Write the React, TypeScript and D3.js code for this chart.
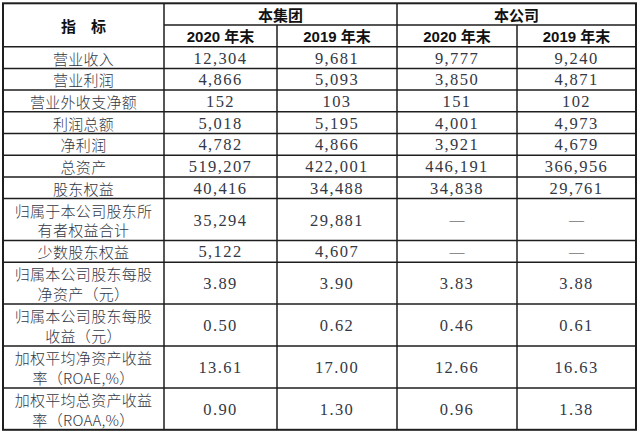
import React from "react";
import * as d3 from "d3";

// table content
const metrics = [
  "营业收入",
  "营业利润",
  "营业外收支净额",
  "利润总额",
  "净利润",
  "总资产",
  "股东权益",
  "归属于本公司股东所有者权益合计",
  "少数股东权益",
  "归属本公司股东每股净资产（元）",
  "归属本公司股东每股收益（元）",
  "加权平均净资产收益率（ROAE,%）",
  "加权平均总资产收益率（ROAA,%）",
];
const group2020 = ["12,304", "4,866", "152", "5,018", "4,782", "519,207", "40,416", "35,294", "5,122", "3.89", "0.50", "13.61", "0.90"];
const group2019 = ["9,681", "5,093", "103", "5,195", "4,866", "422,001", "34,488", "29,881", "4,607", "3.90", "0.62", "17.00", "1.30"];
const company2020 = ["9,777", "3,850", "151", "4,001", "3,921", "446,191", "34,838", "—", "—", "3.83", "0.46", "12.66", "0.96"];
const company2019 = ["9,240", "4,871", "102", "4,973", "4,679", "366,956", "29,761", "—", "—", "3.88", "0.61", "16.63", "1.38"];
const groupHeaders = ["本集团", "本公司"];
const yearHeaders = ["2020 年末", "2019 年末", "2020 年末", "2019 年末"];
const cornerHeader = "指　标";

const W = 640;
const H = 435;
const left = 3;
const top = 3.3;
const colWidths = [161, 113, 120, 120, 119];
const singleH = 21.7;
const doubleH = 41.9;
const wrapAt = 9;

const cjk = "'Noto Sans CJK SC', sans-serif";
const serifNum = "'Liberation Serif', 'DejaVu Serif', serif";
const headFont = "'Liberation Sans', 'Noto Sans CJK SC', sans-serif";
const ink = "#333845";
const line = "#1e1e1e";

function wrap(s: string): string[] {
  const out: string[] = [];
  for (let i = 0; i < s.length; i += wrapAt) out.push(s.slice(i, i + wrapAt));
  return out;
}

export default function App() {
  const colX = [left];
  colWidths.forEach((w) => colX.push(colX[colX.length - 1] + w));
  const right = colX[colX.length - 1];

  const labels = metrics.map(wrap);
  const rowY = [top, top + singleH, top + 2 * singleH];
  labels.forEach((l) => rowY.push(rowY[rowY.length - 1] + (l.length > 1 ? doubleH : singleH)));
  const bottom = rowY[rowY.length - 1];

  const y = d3.scaleLinear().domain([0, 1]).range([0, 1]);
  const cx = (i: number) => (colX[i] + colX[i + 1]) / 2;
  const cols = [group2020, group2019, company2020, company2019];

  return (
    <svg
      width={W}
      height={H}
      style={{ position: "absolute", left: 0, top: 0, background: "#fff" }}
    >
      <rect x={0} y={0} width={W} height={H} fill="#fff" />
      {/* header */}
      <text
        x={cx(0)}
        y={y((rowY[0] + rowY[2]) / 2)}
        textAnchor="middle"
        dominantBaseline="central"
        fontFamily={cjk}
        fontWeight={700}
        fontSize={15}
        fill="#111"
      >
        {cornerHeader}
      </text>
      {groupHeaders.map((g, i) => (
        <text
          key={g}
          x={(colX[1 + i * 2] + colX[3 + i * 2]) / 2}
          y={(rowY[0] + rowY[1]) / 2 + 0.5}
          textAnchor="middle"
          dominantBaseline="central"
          fontFamily={cjk}
          fontWeight={700}
          fontSize={15}
          fill="#111"
        >
          {g}
        </text>
      ))}
      {yearHeaders.map((h, i) => (
        <text
          key={i}
          x={cx(i + 1)}
          y={(rowY[1] + rowY[2]) / 2 + 0.5}
          textAnchor="middle"
          dominantBaseline="central"
          fontFamily={headFont}
          fontWeight={700}
          fontSize={15}
          fill="#111"
        >
          {h}
        </text>
      ))}
      {/* body */}
      {labels.map((ls, r) => {
        const y0 = rowY[r + 2];
        const y1 = rowY[r + 3];
        const mid = (y0 + y1) / 2;
        return (
          <g key={r}>
            {ls.map((t, k) => (
              <text
                key={k}
                x={cx(0)}
                y={mid + (k - (ls.length - 1) / 2) * 19.5 + 0.5}
                textAnchor="middle"
                dominantBaseline="central"
                fontFamily={cjk}
                fontWeight={300}
                fontSize={15}
                letterSpacing={0.3}
                fill={ink}
              >
                {t}
              </text>
            ))}
            {cols.map((c, j) => {
              const dash = c[r] === "—";
              return (
                <text
                  key={j}
                  x={cx(j + 1)}
                  y={mid + 0.5}
                  textAnchor="middle"
                  dominantBaseline="central"
                  fontFamily={serifNum}
                  fontSize={dash ? 15 : 16.5}
                  letterSpacing={dash ? 0 : 1.4}
                  fill={dash ? "#333" : ink}
                >
                  {c[r]}
                </text>
              );
            })}
          </g>
        );
      })}
      {/* grid */}
      <g stroke={line} strokeWidth={1.5} fill="none">
        {rowY.slice(1, -1).map((yy, i) => (
          <line key={i} x1={i === 0 ? colX[1] : left} x2={right} y1={yy} y2={yy} />
        ))}
        {colX.slice(1, -1).map((xx, i) => (
          <line key={i} x1={xx} x2={xx} y1={i % 2 === 1 ? rowY[1] : top} y2={bottom} />
        ))}
      </g>
      <rect
        x={left}
        y={top}
        width={right - left}
        height={bottom - top}
        fill="none"
        stroke={line}
        strokeWidth={2}
      />
    </svg>
  );
}
